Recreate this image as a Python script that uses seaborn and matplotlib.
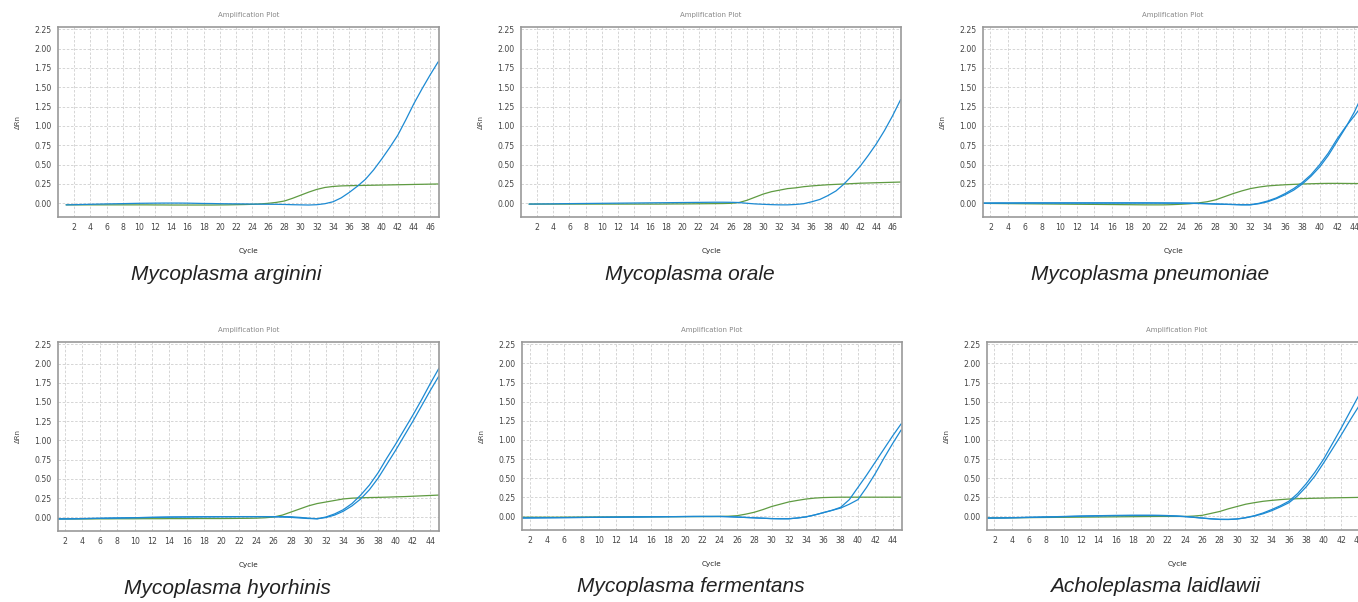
import matplotlib
matplotlib.use("Agg")
import matplotlib.pyplot as plt
import seaborn as sns
import numpy as np

# Cycle axes
cycles_47 = list(range(1, 48))
cycles_45 = list(range(1, 46))

# Mycoplasma arginini
arginini_blue = [-0.020, -0.018, -0.015, -0.013, -0.010, -0.008, -0.006, -0.004, -0.002, 0.000,
                 0.001, 0.002, 0.003, 0.003, 0.003, 0.002, 0.000, -0.002, -0.003, -0.005,
                 -0.006, -0.007, -0.008, -0.010, -0.011, -0.012, -0.013, -0.015, -0.018, -0.020,
                 -0.022, -0.018, -0.005, 0.020, 0.070, 0.140, 0.220, 0.310, 0.430, 0.570,
                 0.720, 0.880, 1.080, 1.290, 1.480, 1.660, 1.830]
arginini_green = [-0.020, -0.020, -0.020, -0.020, -0.020, -0.020, -0.020, -0.020, -0.020, -0.020,
                  -0.020, -0.021, -0.021, -0.022, -0.022, -0.022, -0.022, -0.022, -0.022, -0.021,
                  -0.020, -0.018, -0.016, -0.013, -0.008, 0.000, 0.012, 0.030, 0.065, 0.105,
                  0.145, 0.180, 0.205, 0.218, 0.225, 0.228, 0.230, 0.232, 0.234, 0.236,
                  0.238, 0.240, 0.242, 0.244, 0.246, 0.248, 0.250]

# Mycoplasma orale
orale_blue = [-0.010, -0.009, -0.008, -0.007, -0.005, -0.004, -0.003, -0.002, -0.001, 0.000,
              0.001, 0.002, 0.003, 0.004, 0.005, 0.006, 0.007, 0.008, 0.009, 0.010,
              0.011, 0.012, 0.013, 0.014, 0.014, 0.013, 0.010, 0.000, -0.008, -0.013,
              -0.017, -0.020, -0.020, -0.015, -0.005, 0.020, 0.050, 0.100, 0.160, 0.250,
              0.360, 0.480, 0.620, 0.770, 0.940, 1.130, 1.340]
orale_green = [-0.010, -0.010, -0.010, -0.010, -0.010, -0.010, -0.010, -0.010, -0.010, -0.010,
               -0.010, -0.010, -0.010, -0.010, -0.010, -0.010, -0.010, -0.009, -0.008, -0.008,
               -0.007, -0.006, -0.005, -0.004, -0.003, 0.000, 0.010, 0.040, 0.080, 0.120,
               0.150, 0.170, 0.190, 0.200, 0.215, 0.225, 0.233, 0.240, 0.245, 0.250,
               0.255, 0.260, 0.263, 0.266, 0.269, 0.272, 0.275]

# Mycoplasma pneumoniae
pneumoniae_blue_a = [0.000, 0.001, 0.002, 0.002, 0.003, 0.003, 0.003, 0.003, 0.003, 0.003,
                     0.003, 0.003, 0.003, 0.003, 0.003, 0.003, 0.003, 0.003, 0.003, 0.003,
                     0.003, 0.002, 0.002, 0.001, 0.000, -0.003, -0.006, -0.010, -0.013, -0.016,
                     -0.020, -0.020, -0.005, 0.020, 0.060, 0.110, 0.170, 0.250, 0.350, 0.470,
                     0.620, 0.800, 0.980, 1.180, 1.420]
pneumoniae_blue_b = [0.003, 0.004, 0.005, 0.005, 0.005, 0.006, 0.006, 0.006, 0.006, 0.006,
                     0.006, 0.006, 0.006, 0.006, 0.006, 0.006, 0.006, 0.006, 0.006, 0.006,
                     0.005, 0.005, 0.004, 0.004, 0.003, 0.000, -0.004, -0.008, -0.012, -0.015,
                     -0.018, -0.018, 0.000, 0.030, 0.070, 0.125, 0.190, 0.270, 0.370, 0.500,
                     0.650, 0.830, 0.990, 1.130, 1.280]
pneumoniae_green = [0.000, -0.002, -0.003, -0.004, -0.005, -0.006, -0.007, -0.008, -0.009, -0.010,
                    -0.011, -0.012, -0.013, -0.014, -0.015, -0.016, -0.017, -0.018, -0.019, -0.020,
                    -0.020, -0.020, -0.017, -0.012, -0.006, 0.005, 0.020, 0.045, 0.085, 0.125,
                    0.160, 0.190, 0.210, 0.225, 0.233, 0.240, 0.245, 0.250, 0.253, 0.256,
                    0.258, 0.258, 0.257, 0.256, 0.255]

# Mycoplasma hyorhinis
hyorhinis_blue_a = [-0.020, -0.019, -0.018, -0.016, -0.014, -0.012, -0.010, -0.008, -0.006, -0.004,
                    -0.002, 0.000, 0.002, 0.004, 0.005, 0.006, 0.007, 0.008, 0.008, 0.009,
                    0.009, 0.010, 0.010, 0.010, 0.010, 0.008, 0.004, 0.000, -0.008, -0.015,
                    -0.018, 0.005, 0.045, 0.100, 0.180, 0.290, 0.420, 0.580, 0.770, 0.950,
                    1.140, 1.330, 1.530, 1.740, 1.940]
hyorhinis_blue_b = [-0.020, -0.019, -0.018, -0.016, -0.014, -0.012, -0.010, -0.008, -0.006, -0.004,
                    -0.002, 0.000, 0.002, 0.004, 0.005, 0.006, 0.007, 0.008, 0.008, 0.009,
                    0.009, 0.010, 0.010, 0.010, 0.010, 0.010, 0.010, 0.008, 0.000, -0.010,
                    -0.018, -0.002, 0.030, 0.080, 0.150, 0.240, 0.360, 0.510, 0.690, 0.870,
                    1.060, 1.250, 1.450, 1.650, 1.840]
hyorhinis_green = [-0.020, -0.020, -0.020, -0.020, -0.020, -0.019, -0.019, -0.018, -0.018, -0.018,
                   -0.017, -0.017, -0.017, -0.016, -0.016, -0.016, -0.015, -0.015, -0.015, -0.015,
                   -0.014, -0.013, -0.012, -0.010, -0.005, 0.005, 0.030, 0.070, 0.110, 0.150,
                   0.180, 0.200, 0.220, 0.240, 0.250, 0.255, 0.258, 0.260, 0.263, 0.267,
                   0.270, 0.275, 0.280, 0.285, 0.290]

# Mycoplasma fermentans
fermentans_blue_a = [-0.020, -0.019, -0.018, -0.017, -0.016, -0.015, -0.014, -0.013, -0.012, -0.011,
                     -0.010, -0.009, -0.008, -0.007, -0.006, -0.005, -0.004, -0.003, -0.002, -0.001,
                     0.000, 0.000, 0.000, 0.000, -0.003, -0.008, -0.013, -0.018, -0.023, -0.028,
                     -0.030, -0.030, -0.020, -0.005, 0.020, 0.050, 0.080, 0.120, 0.220, 0.380,
                     0.540, 0.710, 0.880, 1.050, 1.210]
fermentans_blue_b = [-0.020, -0.019, -0.018, -0.017, -0.016, -0.015, -0.014, -0.013, -0.012, -0.011,
                     -0.010, -0.009, -0.008, -0.007, -0.006, -0.005, -0.004, -0.003, -0.002, -0.001,
                     0.000, 0.000, 0.000, 0.000, -0.003, -0.008, -0.013, -0.018, -0.023, -0.028,
                     -0.030, -0.030, -0.020, -0.005, 0.020, 0.050, 0.080, 0.110, 0.160, 0.220,
                     0.380, 0.560, 0.760, 0.950, 1.130]
fermentans_green = [-0.010, -0.010, -0.010, -0.010, -0.010, -0.009, -0.009, -0.008, -0.008, -0.007,
                    -0.007, -0.006, -0.006, -0.005, -0.005, -0.004, -0.004, -0.003, -0.003, -0.002,
                    -0.002, -0.001, -0.001, 0.000, 0.003, 0.010, 0.030, 0.055, 0.090, 0.130,
                    0.160, 0.190, 0.210, 0.228, 0.240, 0.247, 0.250, 0.252, 0.252, 0.252,
                    0.252, 0.252, 0.252, 0.252, 0.252]

# Acholeplasma laidlawii
laidlawii_blue_a = [-0.020, -0.019, -0.018, -0.016, -0.013, -0.010, -0.008, -0.005, -0.003, 0.000,
                    0.003, 0.006, 0.008, 0.010, 0.012, 0.014, 0.015, 0.016, 0.016, 0.016,
                    0.015, 0.012, 0.007, 0.000, -0.010, -0.020, -0.030, -0.037, -0.038, -0.032,
                    -0.015, 0.010, 0.045, 0.090, 0.140, 0.200, 0.300, 0.430, 0.580, 0.750,
                    0.950, 1.150, 1.360, 1.570, 1.780]
laidlawii_blue_b = [-0.022, -0.021, -0.020, -0.018, -0.016, -0.013, -0.011, -0.008, -0.006, -0.003,
                    0.000, 0.003, 0.005, 0.007, 0.009, 0.010, 0.011, 0.012, 0.012, 0.012,
                    0.011, 0.008, 0.004, -0.003, -0.012, -0.022, -0.032, -0.039, -0.040, -0.034,
                    -0.018, 0.005, 0.035, 0.075, 0.125, 0.180, 0.270, 0.390, 0.530, 0.700,
                    0.880, 1.060, 1.250, 1.430, 1.620]
laidlawii_green = [-0.020, -0.019, -0.018, -0.017, -0.016, -0.015, -0.014, -0.013, -0.012, -0.011,
                   -0.010, -0.009, -0.008, -0.007, -0.006, -0.005, -0.004, -0.003, -0.002, -0.001,
                   0.000, 0.000, 0.000, 0.000, 0.005, 0.015, 0.040, 0.065, 0.100, 0.130,
                   0.160, 0.180, 0.198, 0.210, 0.220, 0.228, 0.232, 0.235, 0.238, 0.240,
                   0.243, 0.245, 0.247, 0.249, 0.250]

species = ["Mycoplasma arginini", "Mycoplasma orale", "Mycoplasma pneumoniae",
           "Mycoplasma hyorhinis", "Mycoplasma fermentans", "Acholeplasma laidlawii"]
y_ticks = [0.0, 0.25, 0.5, 0.75, 1.0, 1.25, 1.5, 1.75, 2.0, 2.25]

BLUE = "#1c8ad3"
GREEN = "#5f9b42"

sns.set_style("white")
plt.rcParams["font.family"] = ["DejaVu Sans"]

W, H = 1358, 602
fig = plt.figure(figsize=(W / 100, H / 100), dpi=100)


def panel(box, cycles, blues, green, xlim, caption, caption_x):
    """Draw one amplification plot; box is (left, top, right, bottom) in pixels."""
    l, t, r, b = box
    ax = fig.add_axes([l / W, 1 - b / H, (r - l) / W, (b - t) / H])

    sns.lineplot(x=cycles, y=green, ax=ax, color=GREEN, linewidth=0.9)
    for blue in blues:
        sns.lineplot(x=cycles, y=blue, ax=ax, color=BLUE, linewidth=0.9)

    ax.set_xlim(*xlim)
    ax.set_ylim(-0.177, 2.28)
    ax.set_xticks(list(range(2, cycles[-1] + 1, 2)))
    ax.set_yticks(y_ticks)
    ax.set_yticklabels([f"{v:.2f}" for v in y_ticks])
    ax.tick_params(length=0, labelsize=5.6, labelcolor="#444", pad=4.5)
    ax.grid(True, color="#cfcfcf", linestyle=(0, (3, 2)), linewidth=0.6)
    for s in ax.spines.values():
        s.set_color("#999999")
        s.set_linewidth(1.2)

    ax.set_title("Amplification Plot", fontsize=5, color="#888", pad=7.5)
    ax.set_xlabel("Cycle", fontsize=5.2, color="#222", labelpad=11)
    ax.set_ylabel("ΔRn", fontsize=5, color="#444", labelpad=10)

    fig.text(caption_x / W, 1 - (b + 57) / H, caption, ha="center", va="center",
             fontsize=15, style="italic", family="Liberation Sans", color="#222")


panel((58, 27, 439, 217), cycles_47, [arginini_blue], arginini_green, (0, 47.1), species[0], 226)
panel((521, 27, 901, 217), cycles_47, [orale_blue], orale_green, (0, 47.05), species[1], 690)
panel((983, 27, 1363, 217), cycles_45, [pneumoniae_blue_a, pneumoniae_blue_b], pneumoniae_green,
      (1.15, 45), species[2], 1150)
panel((58, 342, 439, 531), cycles_45, [hyorhinis_blue_a, hyorhinis_blue_b], hyorhinis_green,
      (1.2, 45), species[3], 227)
panel((522, 342, 902, 530), cycles_45, [fermentans_blue_a, fermentans_blue_b], fermentans_green,
      (1.1, 45.1), species[4], 691)
panel((987, 342, 1367, 530), cycles_45, [laidlawii_blue_a, laidlawii_blue_b], laidlawii_green,
      (1.15, 45), species[5], 1155)

plt.savefig("out.png", dpi=100)
